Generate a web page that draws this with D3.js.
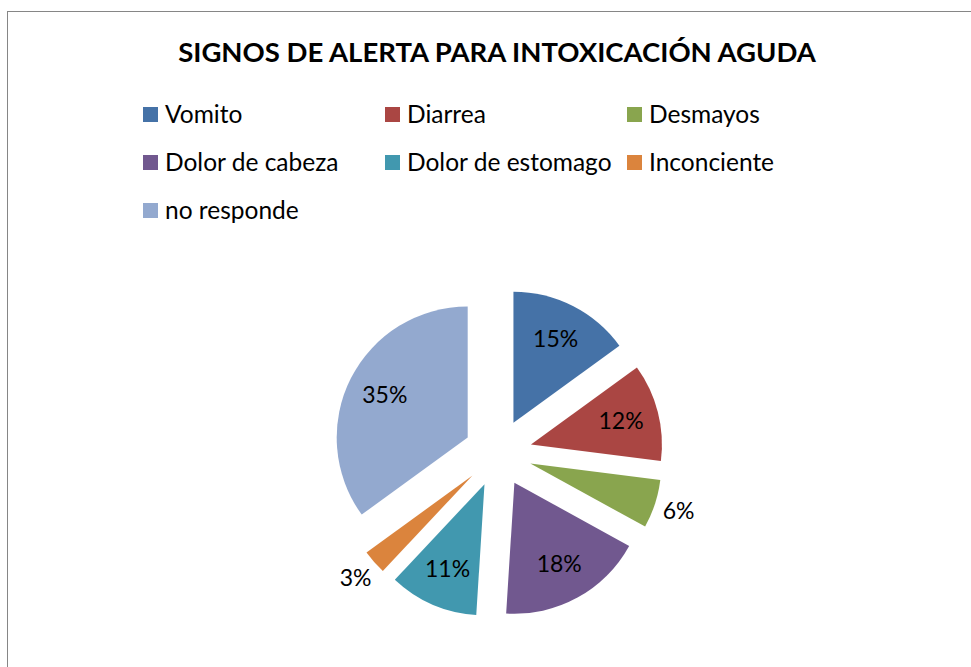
<!DOCTYPE html>
<html>
<head>
<meta charset="utf-8">
<script src="https://cdn.jsdelivr.net/npm/d3@7"></script>
<style>
  html, body { margin: 0; padding: 0; background: #fff; }
  svg { display: block; font-family: Lato, "Open Sans", sans-serif; }
</style>
</head>
<body>
<svg id="chart" width="971" height="667"></svg>
<script>
const title = 'SIGNOS DE ALERTA PARA INTOXICACIÓN AGUDA';
const categories = ['Vomito', 'Diarrea', 'Desmayos', 'Dolor de cabeza', 'Dolor de estomago', 'Inconciente', 'no responde'];
const values = [15, 12, 6, 18, 11, 3, 35];
const colors = ['#4572A7', '#AA4643', '#89A54E', '#71588F', '#4198AF', '#DB843D', '#93A9CF'];

const svg = d3.select('#chart');

// chart frame (right and bottom edges sit outside the window)
svg.append('rect')
  .attr('x', 7.5).attr('y', 11.5).attr('width', 1000).attr('height', 700)
  .attr('fill', 'none').attr('stroke', '#868686').attr('stroke-width', 1);

// title, sized to the span it has in the picture
const t = svg.append('text')
  .attr('x', 497).attr('y', 62)
  .attr('text-anchor', 'middle')
  .attr('font-weight', 'bold').attr('font-size', 26)
  .attr('fill', '#000')
  .text(title);
const tw = t.node().getComputedTextLength();
t.attr('font-size', 26 * 638 / tw);

// legend: 3 columns
const legend = svg.append('g');
categories.forEach((c, i) => {
  const col = i % 3, row = Math.floor(i / 3);
  const g = legend.append('g').attr('transform', `translate(${143 + col * 242},${107 + row * 48})`);
  g.append('rect').attr('width', 15).attr('height', 15).attr('fill', colors[i]);
  g.append('text').attr('x', 22).attr('y', 16)
    .attr('font-size', 24.5).attr('fill', '#000').text(c);
});

// exploded pie
const cx = 498, cy = 453, r = 131, explode = 34;
const pie = d3.pie().sort(null).value(d => d)(values);
const arc = d3.arc().innerRadius(0).outerRadius(r);
const total = d3.sum(values);

const slices = svg.append('g').attr('transform', `translate(${cx},${cy})`)
  .selectAll('g').data(pie).enter().append('g')
  .attr('transform', d => {
    const a = (d.startAngle + d.endAngle) / 2;
    return `translate(${Math.sin(a) * explode},${-Math.cos(a) * explode})`;
  });

slices.append('path').attr('d', arc).attr('fill', (d, i) => colors[i]);

slices.append('text')
  .attr('transform', d => {
    const a = (d.startAngle + d.endAngle) / 2;
    const k = d.value < 10 ? r * 1.19 : r * 0.71;
    return `translate(${Math.sin(a) * k},${-Math.cos(a) * k})`;
  })
  .attr('text-anchor', 'middle').attr('dy', '0.33em')
  .attr('font-size', 23).attr('fill', '#000')
  .text(d => Math.round(d.value / total * 100) + '%');
</script>
</body>
</html>
